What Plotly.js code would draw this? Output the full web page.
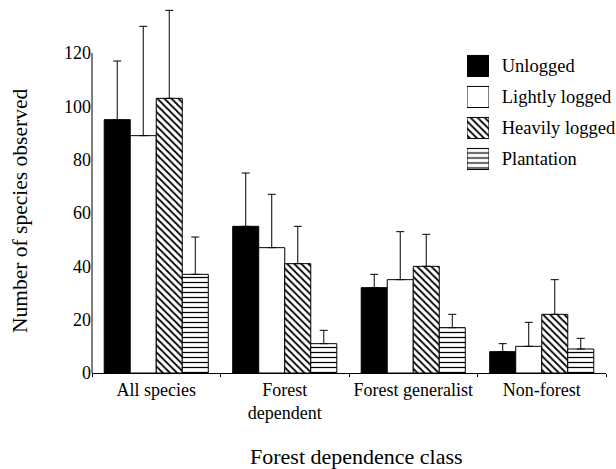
<!DOCTYPE html>
<html>
<head>
<meta charset="utf-8">
<script src="https://cdn.plot.ly/plotly-3.0.1.min.js"></script>
<style>html,body{margin:0;padding:0;background:#fff;}#chart{width:616px;height:469px;}</style>
</head>
<body>
<div id="chart"></div>
<script>
// ---- data ----
const categories = ["All species", "Forest<br>dependent", "Forest generalist", "Non-forest"];
const seriesNames = ["Unlogged", "Lightly logged", "Heavily logged", "Plantation"];
const unlogged = [95, 55, 32, 8];
const unloggedErr = [22, 20, 5, 3];
const lightly = [89, 47, 35, 10];
const lightlyErr = [41, 20, 18, 9];
const heavily = [103, 41, 40, 22];
const heavilyErr = [33, 14, 12, 13];
const plantation = [37, 11, 17, 9];
const plantationErr = [14, 5, 5, 4];
const yTicks = [0, 20, 40, 60, 80, 100, 120];

// ---- styles ----
const FONT = "Liberation Serif";
const styles = [
  {color: "black", pattern: {shape: ""}},
  {color: "white", pattern: {shape: ""}},
  {color: "white", pattern: {shape: "\\", bgcolor: "white", fgcolor: "black", size: 5, solidity: 0.35}},
  {color: "white", pattern: {shape: "-", bgcolor: "white", fgcolor: "black", size: 5, solidity: 0.25}}
];
const values = [unlogged, lightly, heavily, plantation];
const errs = [unloggedErr, lightlyErr, heavilyErr, plantationErr];

const traces = values.map((v, i) => ({
  type: "bar",
  name: seriesNames[i],
  x: categories,
  y: v,
  marker: {color: styles[i].color, pattern: styles[i].pattern, line: {color: "black", width: 1}},
  error_y: {type: "data", symmetric: false, array: errs[i], arrayminus: v.map(() => 0),
            color: "black", thickness: 1, width: 4},
  cliponaxis: false,
  hoverinfo: "x+y"
}));

// legend swatches: one bar per series on small dedicated axes
seriesNames.forEach((name, i) => {
  traces.push({
    type: "bar",
    orientation: "h",
    xaxis: "x2",
    yaxis: "y2",
    y: [name],
    x: [1],
    width: 0.68,
    offset: -0.34,
    marker: {color: styles[i].color, pattern: styles[i].pattern, line: {color: "black", width: 1}},
    hoverinfo: "skip",
    showlegend: false
  });
});

const tf = (s) => ({family: FONT, size: s, color: "black"});

const layout = {
  width: 616, height: 469,
  margin: {l: 92, r: 10, t: 5, b: 96},
  paper_bgcolor: "white", plot_bgcolor: "white",
  showlegend: false,
  barmode: "group",
  bargap: 0.19,
  bargroupgap: 0,
  font: tf(18),
  xaxis: {
    type: "category",
    range: [-0.5, 3.5],
    showline: true, linecolor: "black", linewidth: 1,
    ticks: "outside", tickson: "boundaries", ticklen: 3, tickcolor: "black",
    tickfont: tf(18),
    showgrid: false, zeroline: false
  },
  yaxis: {
    range: [0, 138],
    tickvals: yTicks,
    ticks: "", showline: false, showgrid: false, zeroline: false,
    tickfont: tf(18)
  },
  xaxis2: {domain: [0.7296, 0.7724], anchor: "y2", range: [0, 1], visible: false},
  yaxis2: {
    domain: [0.5394, 0.8764], anchor: "x2", type: "category",
    autorange: "reversed", side: "right",
    ticks: "outside", ticklen: 8, tickcolor: "rgba(0,0,0,0)",
    showline: false, showgrid: false, zeroline: false,
    tickfont: tf(18.5)
  },
  shapes: [{
    type: "line", xref: "paper", yref: "y",
    x0: 0, x1: 0, y0: yTicks[0], y1: yTicks[yTicks.length - 1],
    line: {color: "black", width: 1}
  }],
  annotations: [
    {text: "Forest dependence class", xref: "paper", yref: "paper",
     x: (356.7 - 92) / 514, y: -(456.7 - 373) / 368, xanchor: "center", yanchor: "middle",
     showarrow: false, font: tf(22)},
    {text: "Number of species observed", xref: "paper", yref: "paper",
     x: -(92 - 20) / 514, y: (373 - 211) / 368, xanchor: "center", yanchor: "middle",
     textangle: -90, showarrow: false, font: tf(21.5)}
  ]
};

Plotly.newPlot("chart", traces, layout, {displayModeBar: false, staticPlot: true});
</script>
</body>
</html>
